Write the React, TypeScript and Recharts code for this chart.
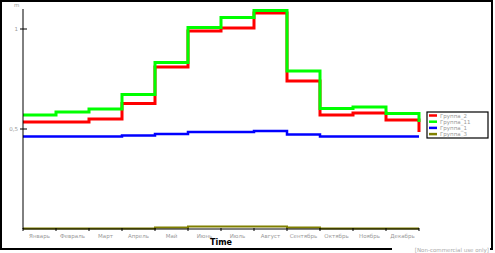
import { LineChart, Line, XAxis, YAxis } from 'recharts';

const months = ['Январь', 'Февраль', 'Март', 'Апрель', 'Май', 'Июнь', 'Июль', 'Август', 'Сентябрь', 'Октябрь', 'Ноябрь', 'Декабрь'];

const group2 = [0.535, 0.535, 0.55, 0.627, 0.81, 0.99, 1.005, 1.08, 0.74, 0.57, 0.58, 0.545];
const group11 = [0.57, 0.585, 0.6, 0.673, 0.833, 1.008, 1.057, 1.093, 0.79, 0.602, 0.61, 0.577];
const group1 = [0.462, 0.462, 0.462, 0.467, 0.475, 0.485, 0.485, 0.49, 0.472, 0.463, 0.462, 0.462];
const group3 = [0.003, 0.003, 0.003, 0.003, 0.008, 0.013, 0.013, 0.013, 0.008, 0.003, 0.003, 0.003];
// value each line drops to at the right edge
const endValues = { g2: 0.485, g11: 0.535, g1: 0.462, g3: 0.003 };

const yTicks = [0.5, 1];
const yTickLabels: Record<number, string> = { 0.5: '0,5', 1: '1' };

const series = [
    { key: 'g3', name: 'Группа_3', color: '#808000', width: 2 },
    { key: 'g1', name: 'Группа_1', color: '#0000ff', width: 2.5 },
    { key: 'g2', name: 'Группа_2', color: '#ff0000', width: 3 },
    { key: 'g11', name: 'Группа_11', color: '#00ff00', width: 3 },
];
const legendOrder = ['g2', 'g11', 'g1', 'g3'];

const data = [
    ...months.map((m, i) => ({ x: i, g2: group2[i], g11: group11[i], g1: group1[i], g3: group3[i] })),
    { x: 12, ...endValues },
];

const W = 495;
const H = 253;
const LEFT = 23;
const RIGHT = 419;
const HALF_BAND = (RIGHT - LEFT) / months.length / 2;

const XTick = (props: any) => {
    const { x, y, payload } = props;
    const i = payload.value;
    return (
        <g>
            <line x1={x} x2={x} y1={y - 1} y2={y + 2} stroke="#000" strokeWidth={1} />
            {i < months.length && (
                <text x={x + HALF_BAND} y={y + 9} textAnchor="middle" fontSize={5.5} fill="#999" fontFamily="DejaVu Sans">
                    {months[i]}
                </text>
            )}
        </g>
    );
};

const YTick = (props: any) => {
    const { x, y, payload } = props;
    return (
        <g>
            <line x1={x - 3} x2={x + 4} y1={y} y2={y} stroke="#000" strokeWidth={1} />
            <text x={x - 5} y={y + 2} textAnchor="end" fontSize={5.5} fill="#999" fontFamily="DejaVu Sans">
                {yTickLabels[payload.value]}
            </text>
        </g>
    );
};

export default function App() {
    return (
        <div style={{ position: 'absolute', left: 0, top: 0, width: W, height: H, background: '#fff' }}>
            <LineChart width={W} height={H} data={data} margin={{ top: 9, right: W - RIGHT, bottom: 0, left: 0 }}>
                <XAxis
                    type="number"
                    dataKey="x"
                    domain={[0, 12]}
                    ticks={[0, 1, 2, 3, 4, 5, 6, 7, 8, 9, 10, 11, 12]}
                    tickLine={false}
                    tickSize={0}
                    tickMargin={0}
                    height={24}
                    stroke="#000"
                    tick={<XTick />}
                    interval={0}
                />
                <YAxis
                    type="number"
                    domain={[0, 1.1]}
                    ticks={yTicks}
                    tickLine={false}
                    tickSize={0}
                    tickMargin={0}
                    width={LEFT}
                    stroke="#000"
                    tick={<YTick />}
                />
                {series.map(s => (
                    <Line
                        key={s.key}
                        type="stepAfter"
                        dataKey={s.key}
                        name={s.name}
                        stroke={s.color}
                        strokeWidth={s.width}
                        dot={false}
                        isAnimationActive={false}
                    />
                ))}
            </LineChart>
            <svg width={W} height={H} style={{ position: 'absolute', left: 0, top: 0, pointerEvents: 'none' }}>
                <rect x={1} y={1} width={491} height={248} fill="none" stroke="#000" strokeWidth={2} />
                <text x={14} y={7} fontSize={5.5} fill="#999" fontFamily="DejaVu Sans">m</text>
                <text x={(LEFT + RIGHT) / 2} y={245} textAnchor="middle" fontSize={8} fontWeight="bold" fill="#000" fontFamily="DejaVu Sans">
                    Time
                </text>
                <rect x={427} y={112} width={61} height={26} fill="#fff" stroke="#000" strokeWidth={1.2} />
                {legendOrder.map((k, i) => {
                    const s = series.find(v => v.key === k)!;
                    const cy = 115.5 + i * 6.2;
                    return (
                        <g key={k}>
                            <line x1={429} x2={437} y1={cy} y2={cy} stroke={s.color} strokeWidth={2.5} />
                            <text x={440} y={cy + 2} fontSize={5.5} fill="#999" fontFamily="DejaVu Sans">{s.name}</text>
                        </g>
                    );
                })}
                <rect x={392} y={246} width={98} height={7} fill="#fff" />
                <text x={489} y={252} textAnchor="end" fontSize={5.5} fill="#aaa" fontFamily="DejaVu Sans">[Non-commercial use only]</text>
            </svg>
        </div>
    );
}
